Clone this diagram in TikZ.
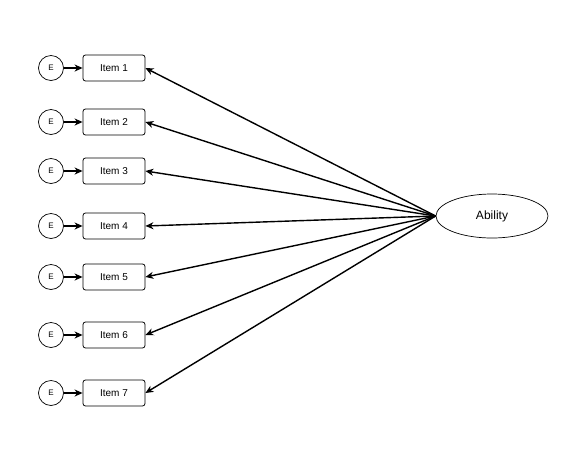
\documentclass[tikz,border=0pt]{standalone}
\usepackage{fontspec}
\setmainfont{Liberation Sans}
\usetikzlibrary{arrows.meta,shapes.geometric}
\begin{document}
\begin{tikzpicture}[x=1pt,y=-1pt,
  item/.style={draw,rounded corners=2.5pt,minimum width=62pt,minimum height=26pt,inner sep=0pt,font=\fontsize{10}{11}\selectfont,line width=0.8pt},
  err/.style={draw,circle,minimum size=25pt,inner sep=0pt,font=\fontsize{8}{9}\selectfont,line width=0.7pt},
  lat/.style={draw,ellipse,minimum width=112pt,minimum height=44pt,inner sep=0pt,font=\fontsize{12}{13}\selectfont,line width=0.7pt},
  arr/.style={-{Stealth[length=8pt,width=7pt,inset=2.5pt]},line width=1.4pt}]
\fill[white] (0,0) rectangle (582,456);
\useasboundingbox (0,0) rectangle (582,456);
\node[lat] (ab) at (492,216) {Ability};
\foreach \i/\y in {1/68,2/122,3/171,4/226,5/277,6/335,7/393}{
  \node[item] (it\i) at (114,\y) {Item \i};
  \node[err] (e\i) at (51,\y) {E};
  \draw[arr] (e\i) -- (it\i);
  \draw[arr] (ab.west) -- (it\i.east);
}
\end{tikzpicture}
\end{document}
